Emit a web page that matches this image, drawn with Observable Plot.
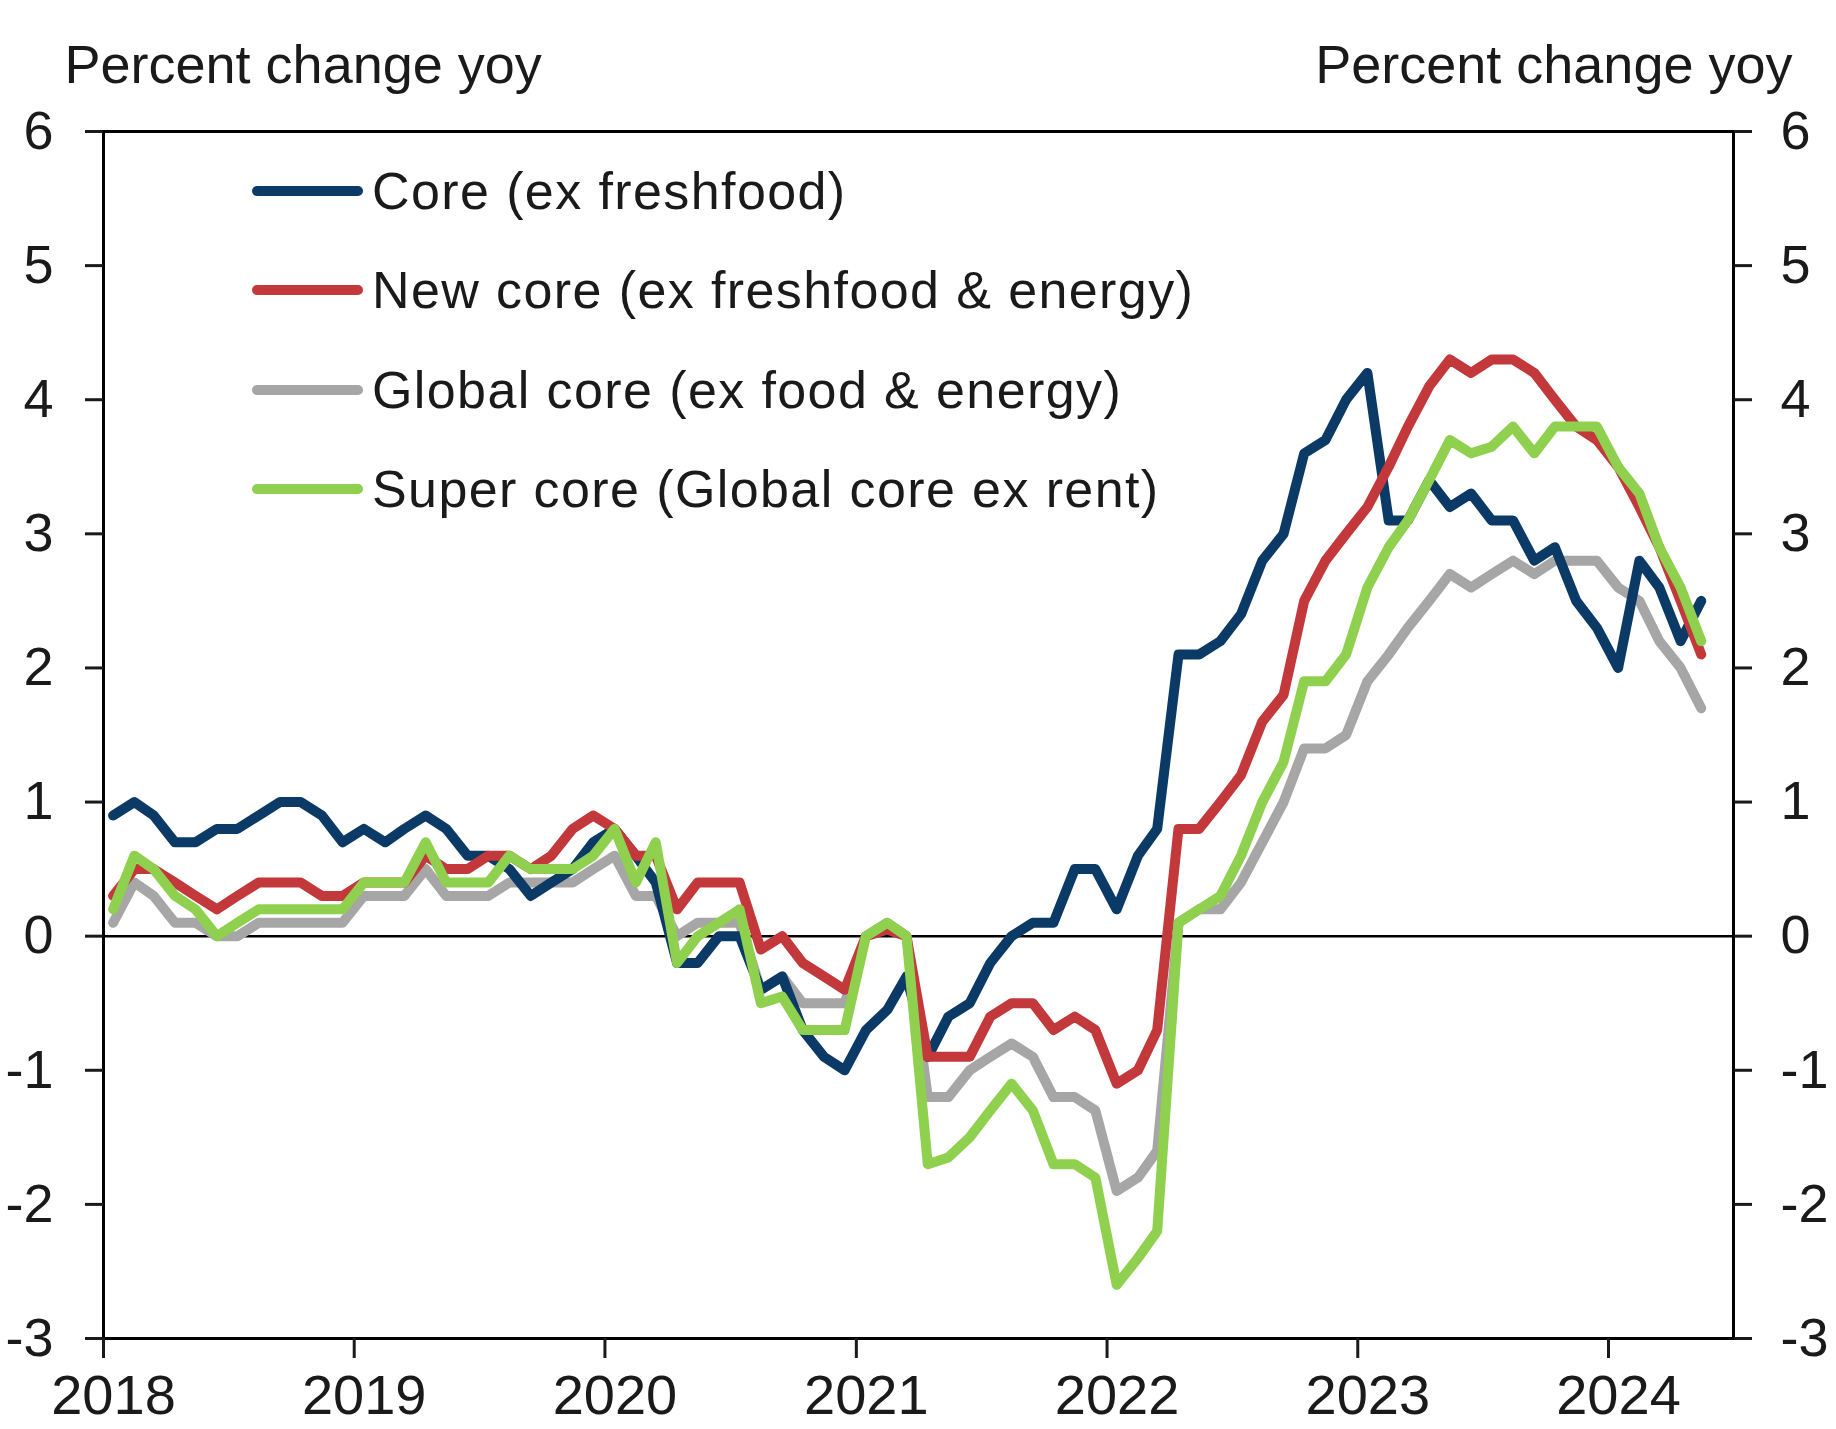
<!DOCTYPE html>
<html>
<head>
<meta charset="utf-8">
<script src="https://cdn.jsdelivr.net/npm/d3@7"></script>
<script src="https://cdn.jsdelivr.net/npm/@observablehq/plot@0.6"></script>
<style>
  html, body { margin: 0; padding: 0; background: #ffffff; }
  #wrap { position: relative; width: 1836px; height: 1429px; font-family: "Liberation Sans", Arial, sans-serif; color: #1a1a1a; }
  #legend { position: absolute; left: 252px; top: 141px; }
  .row { display: flex; align-items: center; height: 99.5px; }
  .swatch { width: 111px; height: 10px; border-radius: 5px; margin-right: 9px; }
  .lab { font-size: 52px; letter-spacing: 1.4px; white-space: nowrap; line-height: 1; }
</style>
</head>
<body>
<div id="wrap"></div>
<script>
// ---- data (monthly, Jan 2018 – May 2024, percent change yoy) ----
const seriesNames = [
  "Core (ex freshfood)",
  "New core (ex freshfood & energy)",
  "Global core (ex food & energy)",
  "Super core (Global core ex rent)"
];
const seriesColors = ["#0b3a66", "#c3383a", "#a6a6a6", "#8fd14f"];

const core = [
  0.9, 1.0, 0.9, 0.7, 0.7, 0.8, 0.8, 0.9, 1.0, 1.0, 0.9, 0.7,
  0.8, 0.7, 0.8, 0.9, 0.8, 0.6, 0.6, 0.5, 0.3, 0.4, 0.5, 0.7,
  0.8, 0.6, 0.4, -0.2, -0.2, 0.0, 0.0, -0.4, -0.3, -0.7, -0.9, -1.0,
  -0.7, -0.55, -0.3, -0.9, -0.6, -0.5, -0.2, 0.0, 0.1, 0.1, 0.5, 0.5,
  0.2, 0.6, 0.8, 2.1, 2.1, 2.2, 2.4, 2.8, 3.0, 3.6, 3.7, 4.0,
  4.2, 3.1, 3.1, 3.4, 3.2, 3.3, 3.1, 3.1, 2.8, 2.9, 2.5, 2.3,
  2.0, 2.8, 2.6, 2.2, 2.5
];
const newCore = [
  0.3, 0.5, 0.5, 0.4, 0.3, 0.2, 0.3, 0.4, 0.4, 0.4, 0.3, 0.3,
  0.4, 0.4, 0.4, 0.6, 0.5, 0.5, 0.6, 0.6, 0.5, 0.6, 0.8, 0.9,
  0.8, 0.6, 0.6, 0.2, 0.4, 0.4, 0.4, -0.1, 0.0, -0.2, -0.3, -0.4,
  0.0, 0.05, 0.0, -0.9, -0.9, -0.9, -0.6, -0.5, -0.5, -0.7, -0.6, -0.7,
  -1.1, -1.0, -0.7, 0.8, 0.8, 1.0, 1.2, 1.6, 1.8, 2.5, 2.8, 3.0,
  3.2, 3.5, 3.8, 4.1, 4.3, 4.2, 4.3, 4.3, 4.2, 4.0, 3.8, 3.7,
  3.5, 3.2, 2.9, 2.5, 2.1
];
const globalCore = [
  0.1, 0.4, 0.3, 0.1, 0.1, 0.0, 0.0, 0.1, 0.1, 0.1, 0.1, 0.1,
  0.3, 0.3, 0.3, 0.5, 0.3, 0.3, 0.3, 0.4, 0.4, 0.4, 0.4, 0.5,
  0.6, 0.3, 0.3, 0.0, 0.1, 0.1, 0.1, -0.4, -0.3, -0.5, -0.5, -0.5,
  0.0, 0.1, 0.0, -1.2, -1.2, -1.0, -0.9, -0.8, -0.9, -1.2, -1.2, -1.3,
  -1.9, -1.8, -1.6, 0.1, 0.2, 0.2, 0.4, 0.7, 1.0, 1.4, 1.4, 1.5,
  1.9, 2.1, 2.3, 2.5, 2.7, 2.6, 2.7, 2.8, 2.7, 2.8, 2.8, 2.8,
  2.6, 2.5, 2.2, 2.0, 1.7
];
const superCore = [
  0.2, 0.6, 0.5, 0.3, 0.2, 0.0, 0.1, 0.2, 0.2, 0.2, 0.2, 0.2,
  0.4, 0.4, 0.4, 0.7, 0.4, 0.4, 0.4, 0.6, 0.5, 0.5, 0.5, 0.6,
  0.8, 0.4, 0.7, -0.2, 0.0, 0.1, 0.2, -0.5, -0.45, -0.7, -0.7, -0.7,
  0.0, 0.1, 0.0, -1.7, -1.65, -1.5, -1.3, -1.1, -1.3, -1.7, -1.7, -1.8,
  -2.6, -2.4, -2.2, 0.1, 0.2, 0.3, 0.6, 1.0, 1.3, 1.9, 1.9, 2.1,
  2.6, 2.9, 3.1, 3.4, 3.7, 3.6, 3.65, 3.8, 3.6, 3.8, 3.8, 3.8,
  3.5, 3.3, 2.9, 2.6, 2.2
];
const yTicks = [-3, -2, -1, 0, 1, 2, 3, 4, 5, 6];
const xTickYears = [2018, 2019, 2020, 2021, 2022, 2023, 2024];
const yTitle = "Percent change yoy";

// ---- build tidy rows ----
const allSeries = [core, newCore, globalCore, superCore];
const rows = [];
allSeries.forEach((vals, s) => vals.forEach((v, i) => rows.push({
  date: new Date(Date.UTC(2018, i, 15)), value: v, series: seriesNames[s]
})));
const xTicks = xTickYears.map(y => new Date(Date.UTC(y, 0, 1)));

const W = 1836, H = 1429;
const font = "'Liberation Sans', Arial, sans-serif";
const lineFor = (k) => Plot.line(rows.filter(d => d.series === seriesNames[k]), {
  x: "date", y: "value", stroke: seriesColors[k], strokeWidth: 10,
  strokeLinejoin: "round", strokeLinecap: "round", curve: "linear"
});

const chart = Plot.plot({
  width: W, height: H,
  marginLeft: 103, marginRight: 103, marginTop: 131, marginBottom: 91,
  style: { fontFamily: font, fontSize: "54px", background: "#ffffff", color: "#1a1a1a", overflow: "visible" },
  x: { type: "utc", domain: [new Date(Date.UTC(2018, 0, 1)), new Date(Date.UTC(2024, 6, 1))] },
  y: { domain: [-3, 6] },
  marks: [
    Plot.ruleY([0], { stroke: "#000", strokeWidth: 2.5 }),
    lineFor(2), lineFor(0), lineFor(1), lineFor(3),
    Plot.frame({ stroke: "#000", strokeWidth: 3 }),
    Plot.axisY({ anchor: "left", ticks: yTicks, tickSize: 18, tickPadding: 32, fontSize: 54,
      tickFormat: d => String(d), label: null, strokeWidth: 3, fill: "#1a1a1a" }),
    Plot.axisY({ anchor: "right", ticks: yTicks, tickSize: 18, tickPadding: 29, fontSize: 54,
      tickFormat: d => String(d), label: null, strokeWidth: 3, fill: "#1a1a1a" }),
    // tick marks only
    Plot.axisX({ ticks: xTicks, tickSize: 20, tickFormat: () => "", label: null, strokeWidth: 3 }),
    // labels only, nudged right as in the original
    Plot.axisX({ ticks: xTicks, tickSize: 0, tickPadding: 36, fontSize: 56, dx: 10,
      tickFormat: d3.utcFormat("%Y"), label: null, fill: "#1a1a1a" }),
    Plot.text([yTitle], { frameAnchor: "top-left", dx: -39, dy: -49, textAnchor: "start",
      lineAnchor: "bottom", fontSize: 54, fill: "#1a1a1a" }),
    Plot.text([yTitle], { frameAnchor: "top-right", dx: 59, dy: -49, textAnchor: "end",
      lineAnchor: "bottom", fontSize: 54, fill: "#1a1a1a" })
  ]
});

const wrap = document.getElementById("wrap");
wrap.appendChild(chart);

// ---- legend (HTML overlay) ----
const legend = document.createElement("div");
legend.id = "legend";
seriesNames.forEach((name, k) => {
  const row = document.createElement("div");
  row.className = "row";
  const sw = document.createElement("div");
  sw.className = "swatch";
  sw.style.background = seriesColors[k];
  const lab = document.createElement("div");
  lab.className = "lab";
  lab.textContent = name;
  row.appendChild(sw); row.appendChild(lab);
  legend.appendChild(row);
});
wrap.appendChild(legend);
</script>
</body>
</html>
